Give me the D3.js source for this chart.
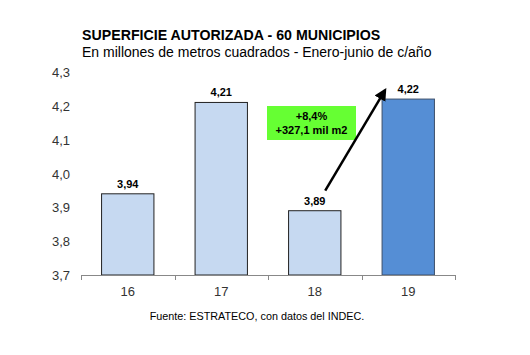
<!DOCTYPE html>
<html><head><meta charset="utf-8">
<script src="https://cdn.jsdelivr.net/npm/d3@7"></script>
<style>body{margin:0;background:#fff}svg{display:block}text{font-family:Arial,"Liberation Sans",sans-serif}</style>
</head><body>
<svg id="c" width="530" height="355"></svg>
<script>
const categories = ["16","17","18","19"];
const values = [3.94, 4.21, 3.89, 4.22];
const labels = ["3,94","4,21","3,89","4,22"];
const yTicks = [3.7,3.8,3.9,4.0,4.1,4.2,4.3];
const noteLines = ["+8,4%","+327,1 mil m2"];

const svg = d3.select("#c");
const x = d3.scaleBand().domain(categories).range([81,455]).paddingInner(0.44).paddingOuter(0.22);
const y = d3.scaleLinear().domain([3.7,4.3]).range([275,72]);

svg.append("text").attr("x",82).attr("y",40).attr("font-size",14.2).attr("font-weight","bold").text("SUPERFICIE AUTORIZADA  - 60 MUNICIPIOS");
svg.append("text").attr("x",82).attr("y",57).attr("font-size",14).text("En millones de metros cuadrados - Enero-junio de c/año");

// y labels
svg.selectAll(".yl").data(yTicks).enter().append("text")
  .attr("x",70).attr("y",d=>y(d)+5).attr("text-anchor","end").attr("font-size",13).attr("fill","#333")
  .text(d=>d3.format(".1f")(d).replace(".",","));

// bars
svg.selectAll(".bar").data(values).enter().append("rect")
  .attr("x",(d,i)=>x(categories[i])).attr("width",x.bandwidth())
  .attr("y",d=>y(d)).attr("height",d=>y(3.7)-y(d))
  .attr("fill",(d,i)=>i===3?"#558ed5":"#c6d9f1")
  .attr("stroke",(d,i)=>i===3?"#3c4f6a":"#222").attr("stroke-width",1);

svg.selectAll(".vl").data(values).enter().append("text")
  .attr("x",(d,i)=>x(categories[i])+x.bandwidth()/2).attr("y",d=>y(d)-6)
  .attr("text-anchor","middle").attr("font-size",11).attr("font-weight","bold")
  .text((d,i)=>labels[i]);

// x axis
svg.append("line").attr("x1",81).attr("x2",455).attr("y1",275.5).attr("y2",275.5).attr("stroke","#888");
const bounds = d3.range(categories.length+1).map(i=>81+i*(374/categories.length));
svg.selectAll(".tk").data(bounds).enter().append("line")
  .attr("x1",d=>Math.round(d)+0.5).attr("x2",d=>Math.round(d)+0.5).attr("y1",275).attr("y2",280).attr("stroke","#888");
svg.selectAll(".xl").data(categories).enter().append("text")
  .attr("x",d=>x(d)+x.bandwidth()/2).attr("y",296).attr("text-anchor","middle").attr("font-size",13).attr("fill","#333").text(d=>d);

svg.append("text").attr("x",257).attr("y",320).attr("text-anchor","middle").attr("font-size",10.8).text("Fuente: ESTRATECO, con datos del INDEC.");

// green note
svg.append("rect").attr("x",267).attr("y",106).attr("width",89).attr("height",34).attr("fill","#66ff33");
svg.selectAll(".nt").data(noteLines).enter().append("text")
  .attr("x",311.5).attr("y",(d,i)=>120+i*14).attr("text-anchor","middle").attr("font-size",11).attr("font-weight","bold").text(d=>d);

// arrow
const defs = svg.append("defs");
defs.append("marker").attr("id","ah").attr("viewBox","0 0 10 10").attr("refX",8).attr("refY",5)
  .attr("markerWidth",5).attr("markerHeight",5).attr("orient","auto")
  .append("path").attr("d","M0,0 L10,5 L0,10 Z").attr("fill","#000");
svg.append("line").attr("x1",x("18")+x.bandwidth()*0.7).attr("y1",y(3.89)-20)
  .attr("x2",x("19")+3).attr("y2",y(4.22)-9)
  .attr("stroke","#000").attr("stroke-width",2.5).attr("marker-end","url(#ah)");
</script>
</body></html>
